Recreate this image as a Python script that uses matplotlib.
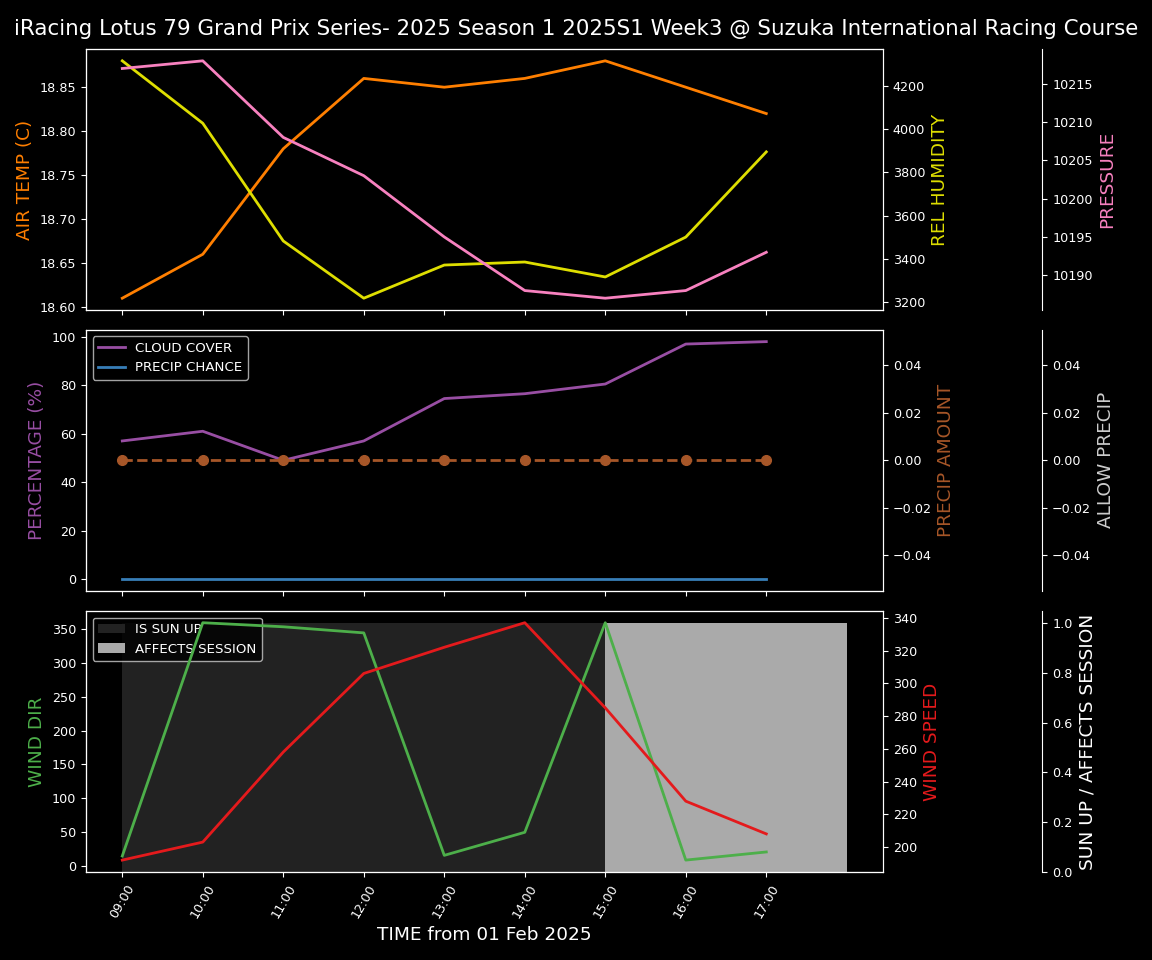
import datetime as dt
import matplotlib
matplotlib.use("Agg")
import matplotlib.pyplot as plt
import matplotlib.dates as mdates

# data
hours = [9, 10, 11, 12, 13, 14, 15, 16, 17]
air_temp = [18.61, 18.66, 18.78, 18.86, 18.85, 18.86, 18.88, 18.85, 18.82]
rel_humidity = [4314, 4026, 3483, 3219, 3372, 3386, 3317, 3501, 3894]
pressure = [10217, 10218, 10208, 10203, 10195, 10188, 10187, 10188, 10193]
cloud_cover = [57, 61, 49, 57, 74.5, 76.5, 80.5, 97, 98]
precip_chance = [0, 0, 0, 0, 0, 0, 0, 0, 0]
precip_amount = [0, 0, 0, 0, 0, 0, 0, 0, 0]
allow_precip = [0, 0, 0, 0, 0, 0, 0, 0, 0]
wind_dir = [15, 359, 353, 344, 16, 50, 359, 9, 21]
wind_speed = [192, 203, 258, 306, 322, 337, 285, 228, 208]
is_sun_up = [1, 1, 1, 1, 1, 1, 1, 1, 1]
affects_session = [0, 0, 0, 0, 0, 0, 1, 1, 1]

title = "iRacing Lotus 79 Grand Prix Series- 2025 Season 1 2025S1 Week3 @ Suzuka International Racing Course"
times = [dt.datetime(2025, 2, 1, h) for h in hours]

plt.style.use("dark_background")
LBL = 13.3
TCK = 9.2
LEG = 9.6
plt.rcParams["xtick.labelsize"] = TCK
plt.rcParams["ytick.labelsize"] = TCK

fig = plt.figure(figsize=(11.52, 9.6), dpi=100)
L, W, H = 0.0747, 0.6918, 0.272
ax1 = fig.add_axes([L, 0.677, W, H])
ax2 = fig.add_axes([L, 0.3845, W, H], sharex=ax1)
ax3 = fig.add_axes([L, 0.0917, W, H], sharex=ax1)

# top panel
ax1.plot(times, air_temp, color="#ff7f00", lw=2)
ax1.set_ylabel("AIR TEMP (C)", color="#ff7f00", fontsize=LBL)
t1 = ax1.twinx()
t1.plot(times, rel_humidity, color="#dede00", lw=2)
t1.set_ylabel("REL HUMIDITY", color="#dede00", fontsize=LBL)
t2 = ax1.twinx()
t2.spines["right"].set_position(("axes", 1.2))
t2.plot(times, pressure, color="#f781bf", lw=2)
t2.set_ylabel("PRESSURE", color="#f781bf", fontsize=LBL)

# middle panel
ax2.plot(times, cloud_cover, color="#984ea3", lw=2, label="CLOUD COVER")
ax2.plot(times, precip_chance, color="#377eb8", lw=2, label="PRECIP CHANCE")
ax2.set_ylabel("PERCENTAGE (%)", color="#984ea3", fontsize=LBL)
ax2.legend(loc="upper left", fontsize=LEG)
m1 = ax2.twinx()
m1.plot(times, precip_amount, color="#a65628", lw=2, ls="--", marker="o", ms=7)
m1.set_ylabel("PRECIP AMOUNT", color="#a65628", fontsize=LBL)
m2 = ax2.twinx()
m2.spines["right"].set_position(("axes", 1.2))
m2.plot(times, allow_precip, visible=False)
m2.set_ylabel("ALLOW PRECIP", color="#cccccc", fontsize=LBL)

# bottom panel
b2 = ax3.twinx()
b3 = ax3.twinx()
b3.spines["right"].set_position(("axes", 1.2))
b3.bar(times, is_sun_up, width=1 / 24, align="edge", color="#222222", label="IS SUN UP")
b3.bar(times, affects_session, width=1 / 24, align="edge", color="#aaaaaa", label="AFFECTS SESSION")
b3.set_ylabel("SUN UP / AFFECTS SESSION", color="white", fontsize=LBL)
b3.legend(loc="upper left", fontsize=LEG)
b3.set_zorder(0)
ax3.set_zorder(1)
b2.set_zorder(2)
ax3.patch.set_visible(False)
b2.patch.set_visible(False)
ax3.plot(times, wind_dir, color="#4daf4a", lw=2)
ax3.set_ylabel("WIND DIR", color="#4daf4a", fontsize=LBL)
b2.plot(times, wind_speed, color="#e41a1c", lw=2)
b2.set_ylabel("WIND SPEED", color="#e41a1c", fontsize=LBL)

ax3.set_xticks(times)
ax3.xaxis.set_major_formatter(mdates.DateFormatter("%H:%M"))
plt.setp(ax3.get_xticklabels(), rotation=60)
plt.setp(ax1.get_xticklabels(), visible=False)
plt.setp(ax2.get_xticklabels(), visible=False)
ax3.set_xlabel("TIME from 01 Feb 2025", fontsize=LBL)

fig.suptitle(title, fontsize=15.4)
fig.savefig("out.png", dpi=100)
